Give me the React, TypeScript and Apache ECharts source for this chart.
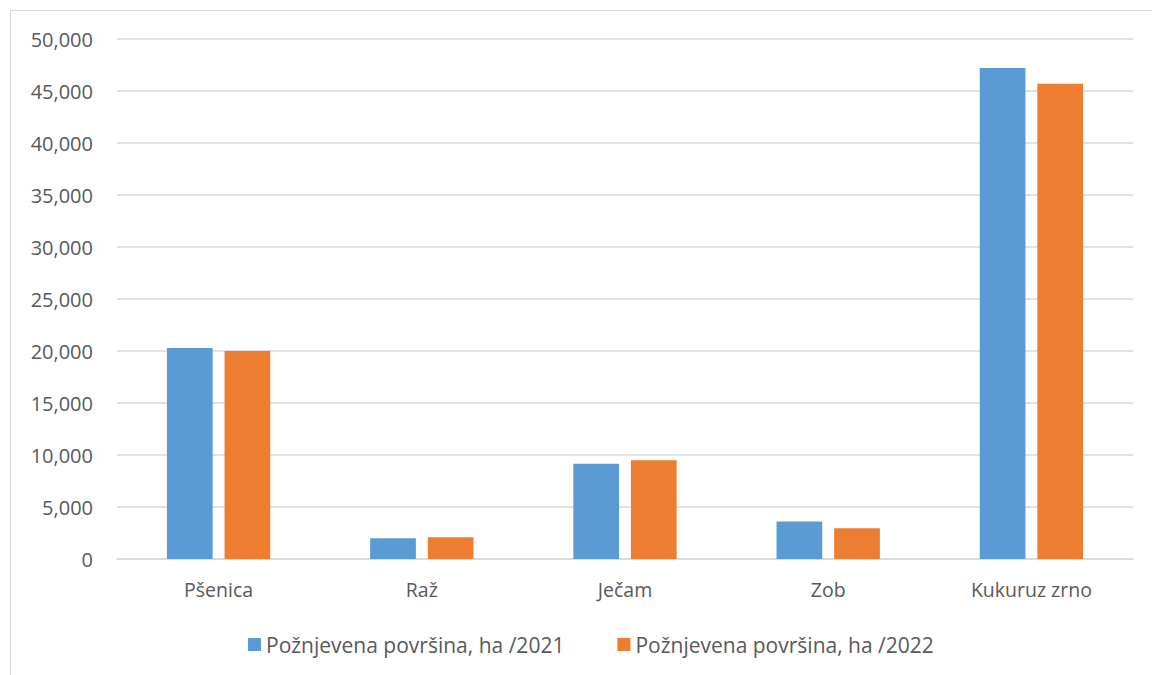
import React, { useEffect, useRef } from "react";
import * as echarts from "echarts";

const categories = ["Pšenica", "Raž", "Ječam", "Zob", "Kukuruz zrno"];
const series2021 = [20300, 2000, 9150, 3600, 47200];
const series2022 = [20000, 2100, 9500, 2950, 45700];
const seriesNames = ["Požnjevena površina, ha /2021", "Požnjevena površina, ha /2022"];
const yTicks = { min: 0, max: 50000, interval: 5000 };

const FONT = "'Open Sans', sans-serif";
const TEXT = "#595959";

export default function App() {
  const ref = useRef<HTMLDivElement>(null);
  useEffect(() => {
    document.body.style.margin = "0";
    const chart = echarts.init(ref.current!, null, { renderer: "svg" });
    chart.setOption({
      animation: false,
      backgroundColor: "#ffffff",
      textStyle: { fontFamily: FONT },
      graphic: [
        {
          type: "rect",
          shape: { x: 10.5, y: 10.5, width: 1200, height: 700 },
          style: { fill: "none", stroke: "#d9d9d9", lineWidth: 1 },
          silent: true,
        },
      ],
      grid: { left: 117, right: 19, top: 39, bottom: 116, containLabel: false },
      legend: {
        left: 243,
        top: 629,
        itemWidth: 13,
        itemHeight: 13,
        itemGap: 53,
        itemTextGap: 6,
        icon: "rect",
        textStyle: { color: TEXT, fontSize: 21, fontFamily: FONT },
        data: seriesNames,
      },
      xAxis: {
        type: "category",
        data: categories,
        axisLine: { lineStyle: { color: "#d9d9d9", width: 1.5 } },
        axisTick: { show: false },
        axisLabel: { color: TEXT, fontSize: 19.5, margin: 20, fontFamily: FONT },
      },
      yAxis: {
        type: "value",
        min: yTicks.min,
        max: yTicks.max,
        interval: yTicks.interval,
        axisLine: { show: false },
        axisTick: { show: false },
        splitLine: { lineStyle: { color: "#d9d9d9", width: 1.5 } },
        axisLabel: {
          color: TEXT,
          fontSize: 20,
          margin: 24,
          fontFamily: FONT,
          formatter: (v: number) => v.toLocaleString("en-US"),
        },
      },
      series: [
        {
          name: seriesNames[0],
          type: "bar",
          data: series2021,
          barWidth: "22.5%",
          barGap: "26%",
          itemStyle: { color: "#5b9bd5" },
        },
        {
          name: seriesNames[1],
          type: "bar",
          data: series2022,
          barWidth: "22.5%",
          barGap: "26%",
          itemStyle: { color: "#ed7d31" },
        },
      ],
    });
    return () => chart.dispose();
  }, []);
  return <div ref={ref} style={{ width: 1152, height: 675 }} />;
}
